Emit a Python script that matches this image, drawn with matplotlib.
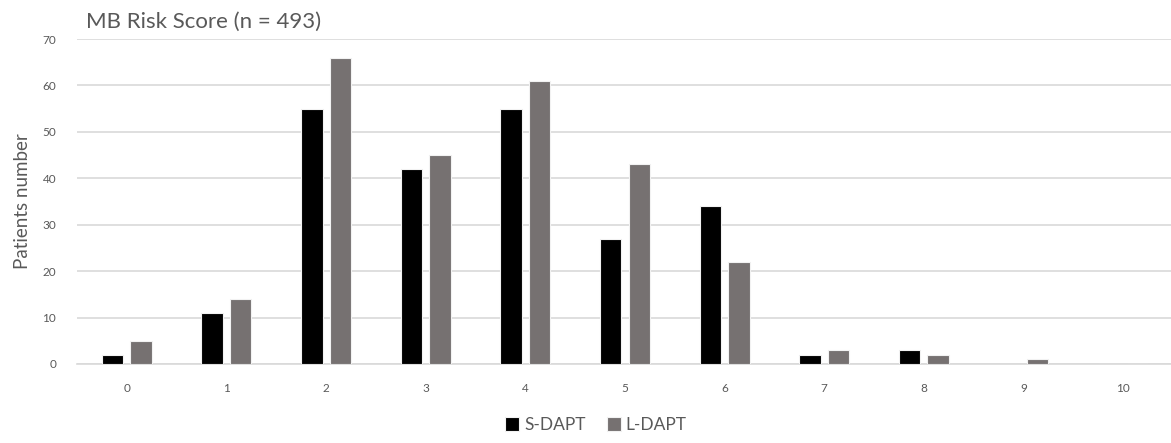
import matplotlib
matplotlib.use("Agg")
import matplotlib.pyplot as plt
import numpy as np

plt.rcParams['font.family'] = ['Lato', 'DejaVu Sans']

categories = ['0', '1', '2', '3', '4', '5', '6', '7', '8', '9', '10']
s_dapt = [2, 11, 55, 42, 55, 27, 34, 2, 3, 0, 0]
l_dapt = [5, 14, 66, 45, 61, 43, 22, 3, 2, 1, 0]
yticks = [0, 10, 20, 30, 40, 50, 60, 70]

W, H = 1171, 443
fig = plt.figure(figsize=(W / 100, H / 100), dpi=100)
ax = fig.add_axes([77 / W, 79 / H, (1171 - 77) / W, 325 / H])

x = np.arange(len(categories))
bw = 0.215
off = 0.143
ax.bar(x - off, s_dapt, bw, color='#000000', edgecolor='#f2f2f2', linewidth=0.8, label='S-DAPT', zorder=3)
ax.bar(x + off, l_dapt, bw, color='#767171', edgecolor='#f2f2f2', linewidth=0.8, label='L-DAPT', zorder=3)

ax.set_xlim(-0.5, 10.48)
ax.set_ylim(0, 70)
ax.set_yticks(yticks)
ax.set_yticklabels([str(v) for v in yticks], fontsize=8.5, color='#595959')
ax.set_xticks(x)
ax.set_xticklabels(categories, fontsize=8.5, color='#595959')
ax.tick_params(axis='both', length=0)
ax.tick_params(axis='y', pad=15)
ax.tick_params(axis='x', pad=14)
ax.grid(axis='y', color='#d9d9d9', linewidth=1.2, zorder=0)
for s in ['top', 'right', 'left']:
    ax.spines[s].set_visible(False)
ax.spines['bottom'].set_color('#d9d9d9')
ax.spines['bottom'].set_linewidth(1.2)

ax.set_ylabel('Patients number', fontsize=13.5, color='#595959', labelpad=8)
fig.text(86 / W, 1 - 22 / H, 'MB Risk Score (n = 493)', fontsize=16, color='#595959', va='center', ha='left')

fig.legend(loc='center', bbox_to_anchor=(596 / W, 1 - 425 / H), ncol=2, frameon=False,
           fontsize=12.5, handlelength=0.8, handleheight=0.8, handletextpad=0.3, columnspacing=1.2,
           labelcolor='#595959')

fig.savefig('out.png', dpi=100)
